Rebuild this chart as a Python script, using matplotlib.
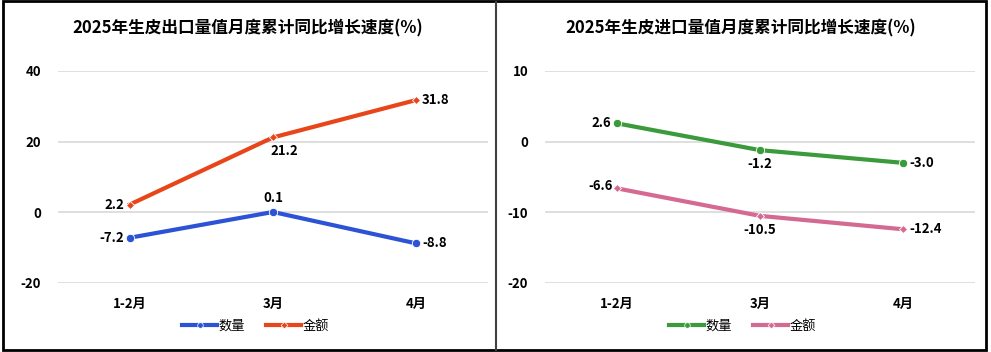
import matplotlib.pyplot as plt
from matplotlib.patches import Rectangle
from matplotlib.lines import Line2D

plt.rcParams['font.family'] = ['Noto Sans CJK SC', 'DejaVu Sans']
plt.rcParams['axes.unicode_minus'] = False

months = ["1-2月", "3月", "4月"]

export_qty = [-7.2, 0.1, -8.8]
export_val = [2.2, 21.2, 31.8]
import_qty = [2.6, -1.2, -3.0]
import_val = [-6.6, -10.5, -12.4]

export_title = "2025年生皮出口量值月度累计同比增长速度(%)"
import_title = "2025年生皮进口量值月度累计同比增长速度(%)"


def label(ax, x, y, text, where):
    offs = {'left': (-4, 0, 'right', 'center'),
            'right': (4, 0, 'left', 'center'),
            'above': (0, 5, 'center', 'bottom'),
            'below': (0, -5, 'center', 'top'),
            'below_right': (8, -5, 'center', 'top'),
            'left_up': (-3, 2, 'right', 'center')}
    dx, dy, ha, va = offs[where]
    ax.annotate(text, (x, y), xytext=(dx, dy), textcoords='offset points',
                ha=ha, va=va, fontsize=9.5, fontweight='bold', color='black')


def panel(ax, qty, val, c_qty, c_val, ylim, yticks, qpos, vpos, title, tx):
    x = list(range(len(months)))
    ax.plot(x, qty, color=c_qty, lw=3, marker='o', ms=6,
            mec='white', mew=0.6, zorder=3)
    ax.plot(x, val, color=c_val, lw=3, marker='D', ms=4.5,
            mec='white', mew=0.6, zorder=3)
    for i in x:
        label(ax, i, qty[i], f"{qty[i]:.1f}", qpos[i])
        label(ax, i, val[i], f"{val[i]:.1f}", vpos[i])
    ax.set_xlim(-0.5, 2.5)
    ax.set_ylim(*ylim)
    ax.set_yticks(yticks)
    ax.set_xticks(x)
    ax.set_xticklabels(months)
    ax.grid(axis='y', color='#d9d9d9', lw=1.2)
    ax.set_axisbelow(True)
    for s in ax.spines.values():
        s.set_visible(False)
    ax.tick_params(length=0, labelsize=9.5)
    ax.tick_params(axis='y', pad=12)
    ax.tick_params(axis='x', pad=10)
    for t in ax.get_xticklabels() + ax.get_yticklabels():
        t.set_fontweight('bold')
    fig.text(tx, 0.92, title, ha='center', va='center',
             fontsize=12, fontweight='bold')
    handles = [Line2D([], [], color=c_qty, lw=3, marker='o', ms=4, mec='white', mew=0.5),
               Line2D([], [], color=c_val, lw=3, marker='D', ms=3.5, mec='white', mew=0.5)]
    ax.legend(handles, ["数量", "金额"], loc='center', bbox_to_anchor=(0.46, -0.205),
              ncol=2, frameon=False, fontsize=9.5, handlelength=2.6,
              handletextpad=0.15, columnspacing=1.6)


fig = plt.figure(figsize=(9.91, 3.52), dpi=100)
ax1 = fig.add_axes([58 / 991, 1 - 283 / 352, 430 / 991, 212 / 352])
ax2 = fig.add_axes([545 / 991, 1 - 283 / 352, 430 / 991, 212 / 352])

panel(ax1, export_qty, export_val, '#2c52d6', '#e8461a', (-20, 40), [-20, 0, 20, 40],
      ['left', 'above', 'right'], ['left', 'below_right', 'right'],
      export_title, 248 / 991)
panel(ax2, import_qty, import_val, '#3a9a3c', '#d46a92', (-20, 10), [-20, -10, 0, 10],
      ['left', 'below', 'right'], ['left_up', 'below', 'right'],
      import_title, 741 / 991)

fig.patches.append(Rectangle((3 / 991, 1 - 350 / 352), 983 / 991, 349 / 352,
                             transform=fig.transFigure, fill=False,
                             edgecolor='black', lw=2))
fig.lines.append(Line2D([496 / 991, 496 / 991], [1 - 350 / 352, 1 - 2 / 352],
                        transform=fig.transFigure, color='#404040', lw=1.5))

fig.savefig("out.png", dpi=100)
